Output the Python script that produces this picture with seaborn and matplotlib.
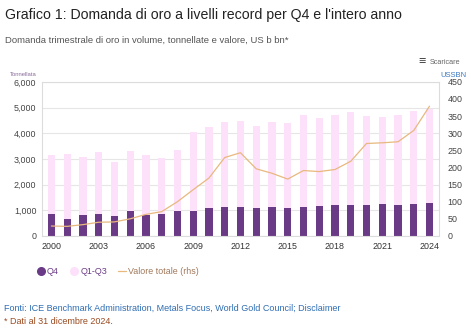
import matplotlib
matplotlib.use("Agg")
import matplotlib.pyplot as plt
import seaborn as sns
import pandas as pd
from matplotlib.lines import Line2D

years = list(range(2000, 2025))
q4 = [860, 660, 810, 860, 770, 970, 810, 860, 970, 970, 1080, 1120, 1120, 1090, 1130,
      1090, 1110, 1160, 1210, 1210, 1210, 1230, 1210, 1260, 1290]
q1_q3 = [2300, 2530, 2270, 2410, 2110, 2340, 2350, 2180, 2380, 3070, 3180, 3330, 3370, 3200,
         3310, 3290, 3610, 3450, 3490, 3610, 3470, 3390, 3480, 3610, 3670]
valore = [29, 28, 33, 40, 41, 50, 63, 71, 100, 135, 169, 229, 243, 196, 183, 166, 191,
          188, 194, 218, 270, 272, 275, 308, 379]
xtick_years = [2000, 2003, 2006, 2009, 2012, 2015, 2018, 2021, 2024]

sns.set_theme(style="white")
plt.rcParams['font.family'] = ['Liberation Sans', 'DejaVu Sans']

df = pd.DataFrame({"year": years, "q4": q4, "q1_q3": q1_q3, "valore": valore})
df["total"] = df["q4"] + df["q1_q3"]

C_Q4 = "#6a3a86"
C_Q13 = "#fde1fb"
C_LINE = "#e8b87e"
GRID = "#e6e6e6"

fig = plt.figure(figsize=(4.71, 3.30), dpi=100)
ax = fig.add_axes([0.089, 0.285, 0.843, 0.467])

sns.barplot(data=df, x="year", y="total", native_scale=True, color=C_Q13, width=0.46,
            saturation=1, ax=ax, edgecolor="none")
sns.barplot(data=df, x="year", y="q4", native_scale=True, color=C_Q4, width=0.46,
            saturation=1, ax=ax, edgecolor="none")

ax.set_ylim(0, 6000)
ax.set_xlim(1999.4, 2024.6)
ax.set_yticks(range(0, 6001, 1000))
ax.set_yticklabels([f"{v:,}" for v in range(0, 6001, 1000)], fontsize=6.4, color="#444444")
ax.set_xticks(xtick_years)
ax.set_xticklabels([str(y) for y in xtick_years], fontsize=6.4, color="#333333")
ax.tick_params(axis="both", length=0, pad=4)
ax.yaxis.grid(True, color=GRID, linewidth=0.8)
ax.set_axisbelow(True)
ax.set_xlabel("")
ax.set_ylabel("")
for s in ax.spines.values():
    s.set_color("#dcdcdc")
    s.set_linewidth(0.8)

ax2 = ax.twinx()
sns.lineplot(data=df, x="year", y="valore", color=C_LINE, linewidth=0.9, ax=ax2)
ax2.set_ylim(0, 450)
ax2.set_yticks(range(0, 451, 50))
ax2.set_yticklabels([str(v) for v in range(0, 451, 50)], fontsize=6.4, color="#444444")
ax2.tick_params(axis="y", length=0, pad=6)
ax2.set_ylabel("")
ax2.set_xlabel("")
for s in ax2.spines.values():
    s.set_visible(False)

# titles and labels
fig.text(0.011, 0.955, "Grafico 1: Domanda di oro a livelli record per Q4 e l'intero anno",
         fontsize=10.2, color="#222222", va="center", ha="left")
fig.text(0.011, 0.878, "Domanda trimestrale di oro in volume, tonnellate e valore, US b bn*",
         fontsize=6.8, color="#555555", va="center", ha="left")
fig.text(0.022, 0.775, "Tonnellata", fontsize=4.2, color="#8a6a9a", va="center", ha="left")
fig.text(0.935, 0.772, "USSBN", fontsize=5.5, color="#3a78c2", va="center", ha="left")
fig.text(0.895, 0.812, "\u2261", fontsize=9, color="#444444", va="center", ha="center")
fig.text(0.912, 0.812, "Scaricare", fontsize=5.2, color="#666666", va="center", ha="left")

# legend
handles = [
    Line2D([0], [0], marker="o", color="none", markerfacecolor=C_Q4, markeredgecolor=C_Q4, markersize=5.5),
    Line2D([0], [0], marker="o", color="none", markerfacecolor=C_Q13, markeredgecolor=C_Q13, markersize=5.5),
    Line2D([0], [0], color=C_LINE, linewidth=0.9),
]
leg = fig.legend(handles, ["Q4", "Q1-Q3", "Valore totale (rhs)"], loc="center left",
                 bbox_to_anchor=(0.06, 0.178), ncol=3, frameon=False, fontsize=6.4,
                 handlelength=1.0, handletextpad=0.2, columnspacing=1.2)
leg_colors = ["#6a3a86", "#6a3a86", "#a0785a"]
for t, c in zip(leg.get_texts(), leg_colors):
    t.set_color(c)

# footer
fig.text(0.008, 0.067, "Fonti: ICE Benchmark Administration, Metals Focus, World Gold Council; Disclaimer",
         fontsize=6.5, color="#2e6db4", va="center", ha="left")
fig.text(0.008, 0.027, "* Dati al 31 dicembre 2024.", fontsize=6.5, color="#9b4a1f",
         va="center", ha="left")

fig.savefig("out.png", dpi=100)
